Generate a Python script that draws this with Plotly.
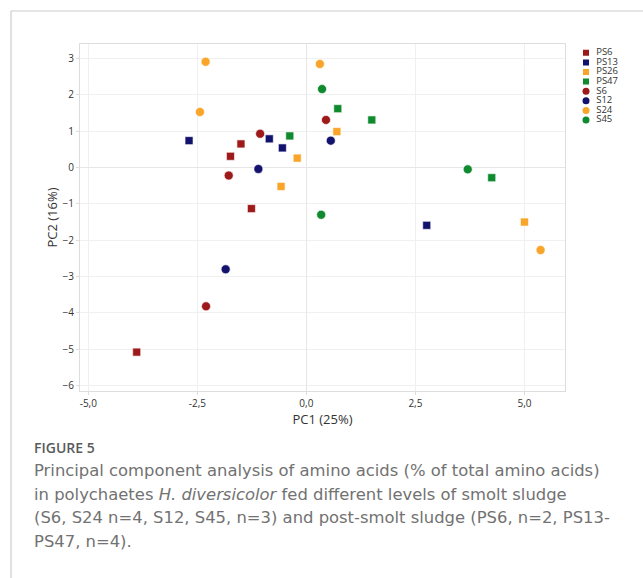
import plotly.graph_objects as go

W, H = 643, 578

# ---- data ----
groups = ["PS6", "PS13", "PS26", "PS47", "S6", "S12", "S24", "S45"]
symbols = ["square", "square", "square", "square", "circle", "circle", "circle", "circle"]
colors = ["#9e1a1a", "#13136e", "#f8a52a", "#0f8a2e", "#9e1a1a", "#13136e", "#f8a52a", "#0f8a2e"]

PS6_x = [-1.50, -1.74, -1.26, -3.89]
PS6_y = [0.65, 0.31, -1.13, -5.08]
PS13_x = [-2.69, -0.85, -0.55, 2.76]
PS13_y = [0.74, 0.79, 0.54, -1.59]
PS26_x = [-0.21, -0.58, 0.70, 5.00]
PS26_y = [0.26, -0.52, 0.99, -1.50]
PS47_x = [-0.38, 0.72, 1.50, 4.25]
PS47_y = [0.87, 1.62, 1.31, -0.28]
S6_x = [-1.06, -1.78, 0.45, -2.30]
S6_y = [0.93, -0.22, 1.31, -3.82]
S12_x = [-1.10, 0.56, -1.85]
S12_y = [-0.04, 0.74, -2.80]
S24_x = [-2.31, -2.44, 0.31, 5.37]
S24_y = [2.91, 1.53, 2.85, -2.27]
S45_x = [0.34, 0.36, 3.70]
S45_y = [-1.30, 2.16, -0.05]

xs = [PS6_x, PS13_x, PS26_x, PS47_x, S6_x, S12_x, S24_x, S45_x]
ys = [PS6_y, PS13_y, PS26_y, PS47_y, S6_y, S12_y, S24_y, S45_y]

x_tickvals = [-5.0, -2.5, 0.0, 2.5, 5.0]
x_ticktext = ["-5,0", "-2,5", "0,0", "2,5", "5,0"]
y_tickvals = [-6, -5, -4, -3, -2, -1, 0, 1, 2, 3]

caption_head = "FIGURE 5"
caption_lines = [
    "Principal component analysis of amino acids (% of total amino acids)",
    "in polychaetes <i>H. diversicolor</i> fed different levels of smolt sludge",
    "(S6, S24 n=4, S12, S45, n=3) and post-smolt sludge (PS6, n=2, PS13-",
    "PS47, n=4).",
]

FONT = "Open Sans"
CAP_FONT = "DejaVu Sans"

def px_x(p):
    return p / W

def px_y(p):
    return 1 - p / H

fig = go.Figure()

for g, sym, col, x, y in zip(groups, symbols, colors, xs, ys):
    fig.add_trace(go.Scatter(
        x=x, y=y, mode="markers", name=g, showlegend=False,
        marker=dict(symbol=sym, color=col, size=8 if sym == "square" else 9,
                    line=dict(color="white", width=0.6)),
        xaxis="x", yaxis="y",
    ))

# custom compact legend on helper axes
idx = list(range(len(groups)))
for i, (g, sym, col) in enumerate(zip(groups, symbols, colors)):
    fig.add_trace(go.Scatter(
        x=[0.1], y=[i], mode="markers", showlegend=False, hoverinfo="skip",
        marker=dict(symbol=sym, color=col, size=6 if sym == "square" else 7),
        xaxis="x2", yaxis="y2",
    ))
fig.add_trace(go.Scatter(
    x=[0.27] * len(groups), y=idx, mode="text", text=groups,
    textposition="middle right", showlegend=False, hoverinfo="skip",
    textfont=dict(family=FONT, size=9.5, color="#333333"),
    xaxis="x2", yaxis="y2",
))

grid = "#f0f0f0"
fig.update_layout(
    width=W, height=H,
    margin=dict(l=0, r=0, t=0, b=0),
    paper_bgcolor="white", plot_bgcolor="white",
    font=dict(family=FONT, color="#333333"),
    xaxis=dict(
        domain=[px_x(80), px_x(565)], range=[-5.19, 5.93],
        tickvals=x_tickvals, ticktext=x_ticktext,
        tickfont=dict(size=10, color="#333333"),
        showgrid=True, gridcolor=grid, gridwidth=1,
        zeroline=True, zerolinecolor="#e6e6e6", zerolinewidth=1,
        showline=True, linecolor="#dddddd", linewidth=1, mirror=True,
        ticks="outside", ticklen=3, tickcolor="#dddddd",
        title=dict(text="PC1 (25%)", font=dict(size=13, color="#333333"), standoff=3),
        anchor="y",
    ),
    yaxis=dict(
        domain=[px_y(391), px_y(44)], range=[-6.15, 3.40],
        tickvals=y_tickvals,
        tickfont=dict(size=10, color="#333333"),
        showgrid=True, gridcolor=grid, gridwidth=1,
        zeroline=True, zerolinecolor="#e6e6e6", zerolinewidth=1,
        showline=True, linecolor="#dddddd", linewidth=1, mirror=True,
        ticks="outside", ticklen=3, tickcolor="#dddddd",
        title=dict(text="PC2 (16%)", font=dict(size=13, color="#333333"), standoff=2),
        anchor="x",
    ),
    xaxis2=dict(domain=[px_x(580), px_x(640)], range=[0, 1], visible=False,
                fixedrange=True, anchor="y2"),
    yaxis2=dict(domain=[px_y(48 + 9.6 * 8), px_y(48)], range=[7.5, -0.5],
                visible=False, fixedrange=True, anchor="x2"),
)

# card border
fig.add_shape(type="line", xref="paper", yref="paper",
              x0=px_x(11), x1=1.0, y0=px_y(11), y1=px_y(11),
              line=dict(color="#cccccc", width=1.2))
fig.add_shape(type="line", xref="paper", yref="paper",
              x0=px_x(11), x1=px_x(11), y0=px_y(11), y1=0,
              line=dict(color="#cccccc", width=1.2))

# caption
fig.add_annotation(text=caption_head, xref="paper", yref="paper",
                   x=px_x(32), y=px_y(447), xanchor="left", yanchor="middle",
                   showarrow=False,
                   font=dict(family=FONT, size=14, weight=600, color="#5a5a5a"))
for i, line in enumerate(caption_lines):
    fig.add_annotation(text=line, xref="paper", yref="paper",
                       x=px_x(32), y=px_y(470.5 + 23.7 * i), xanchor="left", yanchor="middle",
                       showarrow=False,
                       font=dict(family=CAP_FONT, size=16.4, color="#727272"))

fig.write_html("out.html")
